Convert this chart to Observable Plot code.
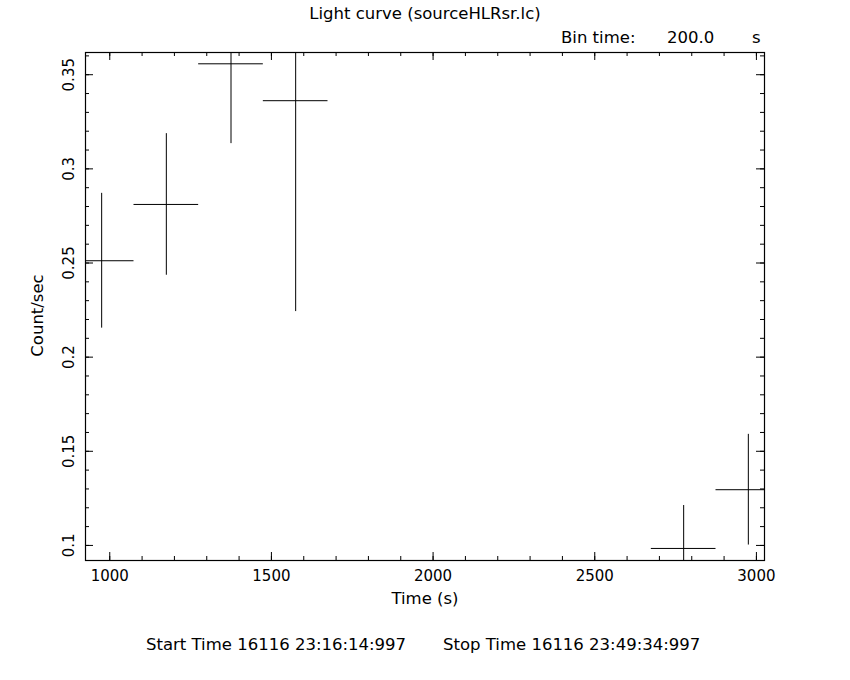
<!DOCTYPE html>
<html>
<head>
<meta charset="utf-8">
<script src="https://cdn.jsdelivr.net/npm/d3@7"></script>
<script src="https://cdn.jsdelivr.net/npm/@observablehq/plot@0.6"></script>
<style>
  html, body { margin: 0; padding: 0; background: #fff; }
  body { width: 850px; height: 680px; position: relative; font-family: "DejaVu Sans", sans-serif; color: #000; }
  #head { position: relative; height: 48px; font-size: 16.5px; }
  #title { position: absolute; left: 0; width: 850px; top: 4px; text-align: center; line-height: 20px; }
  .hd { position: absolute; top: 28px; line-height: 20px; white-space: pre; }
  #foot { position: relative; height: 36px; font-size: 16.5px; }
  .ft { position: absolute; top: 0; line-height: 34px; white-space: pre; }
  svg { display: block; }
</style>
</head>
<body>
<div id="head">
  <div id="title">Light curve (sourceHLRsr.lc)</div>
  <div class="hd" style="left:561px">Bin time:</div>
  <div class="hd" style="left:667px">200.0</div>
  <div class="hd" style="left:752px">s</div>
</div>
<div id="chart"></div>
<div id="foot">
  <div class="ft" style="left:146px">Start Time 16116 23:16:14:997</div>
  <div class="ft" style="left:443px">Stop Time 16116 23:49:34:997</div>
</div>
<script>
// Data
const times = [975, 1175, 1375, 1575, 2775, 2975];               // bin centres (s)
const rates = [0.2512, 0.2811, 0.3558, 0.3362, 0.0984, 0.1296];  // count/sec
const errors = [0.0358, 0.0376, 0.0424, 0.1120, 0.0228, 0.0294];
const binHalfWidth = 100; // bin time 200 s

const xMajor = [1000, 1500, 2000, 2500, 3000];
const xMinor = [1000,1100,1200,1300,1400,1500,1600,1700,1800,1900,2000,2100,2200,2300,2400,2500,2600,2700,2800,2900,3000];
const yMajor = [0.1, 0.15, 0.2, 0.25, 0.3, 0.35];
const yMinor = [0.1,0.11,0.12,0.13,0.14,0.15,0.16,0.17,0.18,0.19,0.2,0.21,0.22,0.23,0.24,0.25,0.26,0.27,0.28,0.29,0.3,0.31,0.32,0.33,0.34,0.35,0.36];

const data = times.map((t, i) => ({t, rate: rates[i], err: errors[i]}));

const W = 850, H = 580;
const mT = 4, mB = 68, mL = 85, mR = 86;
const fw = W - mL - mR, fh = H - mT - mB;
const major = 8, minor = 4;

const chart = Plot.plot({
  width: W, height: H,
  marginTop: mT, marginBottom: mB, marginLeft: mL, marginRight: mR,
  style: {fontFamily: "DejaVu Sans, sans-serif", fontSize: "15px", background: "#fff", color: "#000"},
  x: {domain: [925, 3025], axis: null},
  y: {domain: [0.092, 0.3618], axis: null},
  marks: [
    // error bars
    Plot.ruleY(data, {y: "rate", x1: d => d.t - binHalfWidth, x2: d => d.t + binHalfWidth, stroke: "#000", strokeWidth: 1, clip: true}),
    Plot.ruleX(data, {x: "t", y1: d => d.rate - d.err, y2: d => d.rate + d.err, stroke: "#000", strokeWidth: 1, clip: true}),
    // ticks, inward on all four sides
    Plot.tickX(xMinor, {x: d => d, insetTop: fh - minor, stroke: "#000"}),
    Plot.tickX(xMinor, {x: d => d, insetBottom: fh - minor, stroke: "#000"}),
    Plot.tickX(xMajor, {x: d => d, insetTop: fh - major, stroke: "#000"}),
    Plot.tickX(xMajor, {x: d => d, insetBottom: fh - major, stroke: "#000"}),
    Plot.tickY(yMinor, {y: d => d, insetRight: fw - minor, stroke: "#000"}),
    Plot.tickY(yMinor, {y: d => d, insetLeft: fw - minor, stroke: "#000"}),
    Plot.tickY(yMajor, {y: d => d, insetRight: fw - major, stroke: "#000"}),
    Plot.tickY(yMajor, {y: d => d, insetLeft: fw - major, stroke: "#000"}),
    Plot.frame({stroke: "#000", strokeWidth: 1.2}),
    // tick labels
    Plot.text(xMajor, {x: d => d, text: d => String(d), frameAnchor: "bottom", dy: 16, lineAnchor: "middle", fill: "#000"}),
    Plot.text(yMajor, {y: d => d, text: d => String(d), frameAnchor: "left", dx: -16, rotate: -90, lineAnchor: "middle", textAnchor: "middle", fill: "#000"}),
    // axis labels
    Plot.text(["Time (s)"], {frameAnchor: "bottom", dy: 38, lineAnchor: "middle", textAnchor: "middle", fill: "#000", fontSize: 16.5}),
    Plot.text(["Count/sec"], {frameAnchor: "left", dx: -48, dy: 9, rotate: -90, lineAnchor: "middle", textAnchor: "middle", fill: "#000", fontSize: 16.5})
  ]
});
document.getElementById("chart").appendChild(chart);
</script>
</body>
</html>
